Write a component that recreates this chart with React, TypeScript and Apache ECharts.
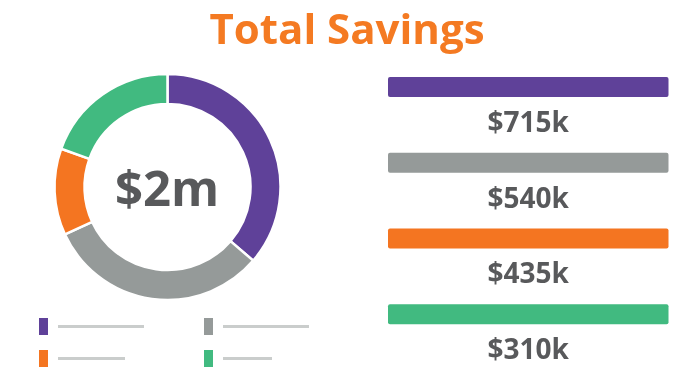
import React, { useEffect, useRef } from "react";
import * as echarts from "echarts";

const categories = ["Category 1", "Category 2", "Category 3", "Category 4"];
const savingsLabels = ["$715k", "$540k", "$435k", "$310k"];
const donutShare = [36.3, 31.8, 12.4, 19.5];
const barFill = [100, 100, 100, 100];
const colors = ["#5F4199", "#959A99", "#F47521", "#41BA80"];
const legendLineWidths = [86, 86, 67, 49];
const totalLabel = "$2m";
const titleText = "Total Savings";

export default function App() {
  const ref = useRef<HTMLDivElement>(null);
  useEffect(() => {
    if (!ref.current) return;
    const chart = echarts.init(ref.current, undefined, { renderer: "svg" });
    const rich: Record<string, any> = { s: { width: 5, height: 3 } };
    legendLineWidths.forEach((w, i) => {
      rich["l" + i] = { width: w, height: 3, backgroundColor: "#CACDCC" };
    });
    const fmt = (name: string) => `{s|}{l${categories.indexOf(name)}|}`;
    const legendBase = {
      orient: "vertical",
      top: 318,
      itemWidth: 9,
      itemHeight: 17,
      itemGap: 15,
      padding: 0,
      icon: "rect",
      selectedMode: false,
      itemStyle: { borderWidth: 0 },
      formatter: fmt,
      textStyle: { rich },
    };
    chart.setOption({
      animation: false,
      title: {
        text: titleText,
        left: "center",
        top: 6,
        padding: 0,
        textStyle: {
          fontFamily: "Open Sans",
          fontSize: 42,
          fontWeight: "bold",
          color: "#F47A22",
        },
      },
      legend: [
        { ...legendBase, left: 39, data: [categories[0], categories[2]] },
        { ...legendBase, left: 204, data: [categories[1], categories[3]] },
      ],
      graphic: [
        {
          type: "text",
          x: 167,
          y: 187,
          style: {
            text: totalLabel,
            x: 0,
            y: 0,
            textAlign: "center",
            textVerticalAlign: "middle",
            fontFamily: "Open Sans",
            fontSize: 49,
            fontWeight: "bold",
            fill: "#58595B",
          },
        },
      ],
      grid: { left: 388, top: 49, width: 280.5, height: 303 },
      xAxis: { type: "value", min: 0, max: 100, show: false },
      yAxis: { type: "category", data: categories, inverse: true, show: false },
      series: [
        {
          type: "pie",
          center: [167.5, 187],
          radius: [83, 113],
          startAngle: 90,
          clockwise: true,
          label: { show: false },
          labelLine: { show: false },
          silent: true,
          itemStyle: { borderColor: "#fff", borderWidth: 2.5 },
          data: categories.map((c, i) => ({
            name: c,
            value: donutShare[i],
            itemStyle: { color: colors[i] },
          })),
        },
        {
          type: "bar",
          barWidth: 20,
          silent: true,
          data: barFill.map((v, i) => ({
            value: v,
            itemStyle: { color: colors[i], borderRadius: 2 },
          })),
          label: {
            show: true,
            position: "bottom",
            distance: 10,
            formatter: (p: any) => savingsLabels[p.dataIndex],
            fontFamily: "Open Sans",
            fontSize: 28,
            fontWeight: "bold",
            color: "#58595B",
          },
        },
      ],
    });
    return () => chart.dispose();
  }, []);
  return (
    <div
      ref={ref}
      style={{ position: "fixed", left: 0, top: 0, width: 694, height: 384 }}
    />
  );
}
